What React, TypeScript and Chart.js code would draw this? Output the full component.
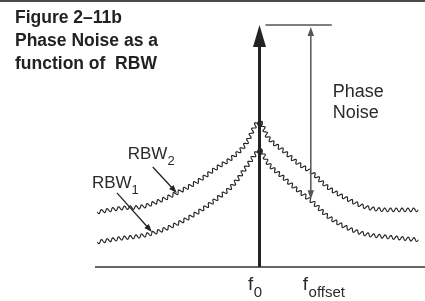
import React, { useEffect, useRef } from "react";
import { Chart, registerables } from "chart.js";

Chart.register(...registerables);

// ---------- data ----------
const titleLines = ["Figure 2–11b", "Phase Noise as a", "function of  RBW"];

// frequency offset from the carrier (arbitrary units, carrier at 0)
const offsets = [-9.8, -8.2, -7.2, -6.2, -5.0, -3.8, -2.6, -1.6, -0.8, -0.15, 0, 0.5, 1.4, 2.3, 3.2, 4.1, 5.2, 6.4, 7.8, 9.6];
// displayed noise level (arbitrary units, 0 = baseline, 100 = carrier level)
const rbw2Noise = [22.7, 24.4, 24.8, 26.9, 30.6, 35.1, 40.9, 45.5, 51.2, 59.5, 59.9, 53.7, 48.3, 43.0, 38.8, 33.1, 28.5, 24.8, 23.6, 23.6];
const rbw1Noise = [10.3, 12.0, 12.8, 14.5, 17.8, 22.3, 28.1, 33.9, 41.3, 47.5, 48.3, 43.0, 37.2, 31.8, 26.9, 21.1, 16.5, 13.6, 12.4, 11.2];

const carrierOffset = 0;
const carrierLevel = 100;
const fOffset = 3.1;
const phaseNoiseFloor = 28;

const tickValues = [carrierOffset, fOffset];
const tickMain = ["f", "f"];
const tickSub = ["0", "offset"];

const seriesMain = ["RBW", "RBW"];
const seriesSub = ["2", "1"];
const seriesAnchorX = [-5.0, -6.5];
const seriesAnchorY = [30.6, 14.5];

const phaseNoiseLabel = ["Phase", "Noise"];

// ---------- style ----------
const INK = "#232323";
const GREY = "#555555";
const FONT = "'Liberation Sans', Arial, sans-serif";

function drawArrow(ctx: CanvasRenderingContext2D, x1: number, y1: number, x2: number, y2: number, headLen: number, headW: number, lw: number, color: string) {
  const dx = x2 - x1, dy = y2 - y1;
  const len = Math.hypot(dx, dy) || 1;
  const ux = dx / len, uy = dy / len;
  const bx = x2 - ux * headLen, by = y2 - uy * headLen;
  ctx.save();
  ctx.strokeStyle = color;
  ctx.fillStyle = color;
  ctx.lineWidth = lw;
  ctx.beginPath();
  ctx.moveTo(x1, y1);
  ctx.lineTo(bx + ux * 1, by + uy * 1);
  ctx.stroke();
  ctx.beginPath();
  ctx.moveTo(x2, y2);
  ctx.lineTo(bx - uy * headW / 2, by + ux * headW / 2);
  ctx.lineTo(bx + uy * headW / 2, by - ux * headW / 2);
  ctx.closePath();
  ctx.fill();
  ctx.restore();
}

function densify(pts: any[]) {
  const out: { x: number; y: number }[] = [];
  const steps = 30;
  for (let i = 0; i < pts.length - 1; i++) {
    const a = pts[i], b = pts[i + 1];
    const c1x = a.cp2x ?? a.x, c1y = a.cp2y ?? a.y;
    const c2x = b.cp1x ?? b.x, c2y = b.cp1y ?? b.y;
    for (let k = 0; k <= steps; k++) {
      if (i > 0 && k === 0) continue;
      const t = k / steps, u = 1 - t;
      out.push({
        x: u * u * u * a.x + 3 * u * u * t * c1x + 3 * u * t * t * c2x + t * t * t * b.x,
        y: u * u * u * a.y + 3 * u * u * t * c1y + 3 * u * t * t * c2y + t * t * t * b.y,
      });
    }
  }
  return out;
}

function drawWiggle(ctx: CanvasRenderingContext2D, dense: { x: number; y: number }[], amp: number, period: number) {
  const cum = [0];
  for (let j = 1; j < dense.length; j++) {
    cum.push(cum[j - 1] + Math.hypot(dense[j].x - dense[j - 1].x, dense[j].y - dense[j - 1].y));
  }
  const total = cum[cum.length - 1];
  ctx.beginPath();
  let j = 0;
  let first = true;
  for (let s = 0; s <= total; s += 0.3) {
    while (j < dense.length - 2 && cum[j + 1] < s) j++;
    const seg = cum[j + 1] - cum[j] || 1;
    const f = (s - cum[j]) / seg;
    const px = dense[j].x + (dense[j + 1].x - dense[j].x) * f;
    const py = dense[j].y + (dense[j + 1].y - dense[j].y) * f;
    const tx = (dense[j + 1].x - dense[j].x) / seg;
    const ty = (dense[j + 1].y - dense[j].y) / seg;
    const o = amp * Math.sin((2 * Math.PI * s) / period);
    const x = px - ty * o, y = py + tx * o;
    if (first) { ctx.moveTo(x, y); first = false; } else ctx.lineTo(x, y);
  }
  ctx.stroke();
}

const figurePlugin = {
  id: "figureDecor",
  beforeDraw(chart: any) {
    const ctx = chart.ctx as CanvasRenderingContext2D;
    ctx.save();
    ctx.fillStyle = "#ffffff";
    ctx.fillRect(0, 0, chart.width, chart.height);
    ctx.fillStyle = "#4a4a4a";
    ctx.fillRect(0, 0, chart.width, 2);
    ctx.restore();
  },
  afterDatasetsDraw(chart: any) {
    const ctx = chart.ctx as CanvasRenderingContext2D;
    const xs = chart.scales.x, ys = chart.scales.y;
    const area = chart.chartArea;

    // wiggly noise curves
    chart.data.datasets.forEach((_ds: any, i: number) => {
      const meta = chart.getDatasetMeta(i);
      if (meta.dataset && typeof meta.dataset.updateControlPoints === "function") {
        meta.dataset.updateControlPoints(area, "x");
      }
      const pts = meta.data.map((p: any) => ({ x: p.x, y: p.y, cp1x: p.cp1x, cp1y: p.cp1y, cp2x: p.cp2x, cp2y: p.cp2y }));
      const dense = densify(pts);
      ctx.save();
      ctx.strokeStyle = INK;
      ctx.lineWidth = 1.15;
      ctx.lineJoin = "round";
      drawWiggle(ctx, dense, 1.8, 5.8);
      // small loop at the peak
      const peakIdx = offsets.indexOf(carrierOffset);
      const pk = meta.data[peakIdx];
      ctx.beginPath();
      ctx.arc(pk.x + 0.5, pk.y + 1.5, 2.3, 0, Math.PI * 2);
      ctx.stroke();
      ctx.restore();
    });

    // baseline axis
    const y0 = ys.getPixelForValue(0);
    ctx.save();
    ctx.strokeStyle = "#333333";
    ctx.lineWidth = 1.5;
    ctx.beginPath();
    ctx.moveTo(area.left + 1, y0);
    ctx.lineTo(area.right, y0);
    ctx.stroke();
    ctx.restore();

    // carrier
    const cx = xs.getPixelForValue(carrierOffset);
    const cTop = ys.getPixelForValue(carrierLevel);
    drawArrow(ctx, cx, y0, cx, cTop, 22, 13, 3, INK);

    // reference line at carrier level and phase-noise arrow
    const ox = xs.getPixelForValue(fOffset);
    ctx.save();
    ctx.strokeStyle = GREY;
    ctx.lineWidth = 1.5;
    ctx.beginPath();
    ctx.moveTo(cx + 6, cTop);
    ctx.lineTo(ox + 21, cTop);
    ctx.stroke();
    ctx.restore();
    const pnBottom = ys.getPixelForValue(phaseNoiseFloor);
    const mid = (cTop + pnBottom) / 2;
    drawArrow(ctx, ox, mid, ox, cTop + 2, 9, 6.5, 1.5, GREY);
    drawArrow(ctx, ox, mid, ox, pnBottom, 9, 6.5, 1.5, GREY);

    ctx.save();
    ctx.fillStyle = "#2a2a2a";
    ctx.textBaseline = "alphabetic";
    ctx.textAlign = "left";
    ctx.font = `18px ${FONT}`;
    phaseNoiseLabel.forEach((t, i) => ctx.fillText(t, ox + 22, 97 + i * 21));

    // series labels with arrows
    const tailDx = [-24, -35], tailDy = [-26, -39];
    const textDx = [-49, -60], textDy = [-34, -44];
    seriesMain.forEach((m, i) => {
      const tx = xs.getPixelForValue(seriesAnchorX[i]);
      const ty = ys.getPixelForValue(seriesAnchorY[i]);
      drawArrow(ctx, tx + tailDx[i], ty + tailDy[i], tx, ty, 8, 6, 1.3, INK);
      ctx.fillStyle = "#2a2a2a";
      ctx.font = `17px ${FONT}`;
      const bx = tx + textDx[i], by = ty + textDy[i];
      ctx.fillText(m, bx, by);
      const w = ctx.measureText(m).width;
      ctx.font = `13px ${FONT}`;
      ctx.fillText(seriesSub[i], bx + w, by + 6);
    });

    // x tick labels
    const tickDx = [-11.5, -8];
    tickValues.forEach((v, i) => {
      const px = xs.getPixelForValue(v) + tickDx[i];
      ctx.font = `19px ${FONT}`;
      ctx.fillText(tickMain[i], px, 290);
      const w = ctx.measureText(tickMain[i]).width;
      ctx.font = `15px ${FONT}`;
      ctx.fillText(tickSub[i], px + w + 0.5, 297);
    });

    // title
    ctx.fillStyle = "#222222";
    ctx.font = `bold 17.5px ${FONT}`;
    titleLines.forEach((t, i) => ctx.fillText(t, 15, 23 + i * 23));
    ctx.restore();
  },
};

export default function App() {
  const ref = useRef<HTMLCanvasElement>(null);
  useEffect(() => {
    if (!ref.current) return;
    const chart = new Chart(ref.current, {
      type: "line",
      data: {
        datasets: [
          {
            label: "RBW2",
            data: offsets.map((x, i) => ({ x, y: rbw2Noise[i] })),
            borderColor: "rgba(0,0,0,0)",
            borderWidth: 1,
            pointRadius: 0,
            cubicInterpolationMode: "monotone",
            fill: false,
          },
          {
            label: "RBW1",
            data: offsets.map((x, i) => ({ x, y: rbw1Noise[i] })),
            borderColor: "rgba(0,0,0,0)",
            borderWidth: 1,
            pointRadius: 0,
            cubicInterpolationMode: "monotone",
            fill: false,
          },
        ],
      },
      options: {
        animation: false,
        responsive: false,
        devicePixelRatio: 1,
        layout: { padding: { left: 94, right: 0, top: 25, bottom: 34 } },
        scales: {
          x: { type: "linear", min: -10, max: 10, display: false },
          y: { type: "linear", min: 0, max: 100, display: false },
        },
        plugins: { legend: { display: false }, tooltip: { enabled: false }, title: { display: false } },
        events: [],
      },
      plugins: [figurePlugin],
    });
    return () => chart.destroy();
  }, []);
  return (
    <div style={{ position: "fixed", left: 0, top: 0, width: 425, height: 301, background: "#fff" }}>
      <canvas ref={ref} width={425} height={301} style={{ display: "block", width: 425, height: 301 }} />
    </div>
  );
}
